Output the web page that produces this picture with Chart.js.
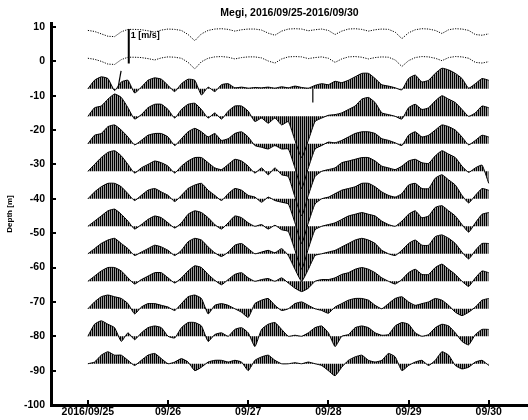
<!DOCTYPE html>
<html>
<head>
<meta charset="utf-8">
<script src="https://cdn.jsdelivr.net/npm/chart.js"></script>
<style>
  html, body { margin: 0; padding: 0; background: #fff; }
</style>
</head>
<body>
<canvas id="chart" width="528" height="420"></canvas>
<script>
// Time axis: days since 2016/09/25 00:00, samples every 2 hours
const sampleHours = Array.from({ length: 61 }, (_, i) => i * 2);
const xTickValues = [0, 1, 2, 3, 4, 5];
const xTickLabels = ['2016/09/25', '09/26', '09/27', '09/28', '09/29', '09/30'];
const yTickValues = [10, 0, -10, -20, -30, -40, -50, -60, -70, -80, -90, -100];

// Dotted surface rows (plotted in depth units)
const surfaceTop = [9.0, 8.7, 8.0, 7.3, 7.2, 8.6, 9.3, 9.3, 9.2, 8.9, 8.5, 9.1, 9.4, 9.3, 9.0, 7.8, 6.0, 8.0, 9.0, 9.4,
  9.5, 9.3, 8.8, 9.2, 9.4, 9.4, 9.1, 8.2, 7.6, 8.8, 9.4, 9.5, 9.4, 8.9, 9.2, 9.4, 9.0, 7.8, 8.8, 9.4,
  9.5, 9.3, 8.8, 9.2, 9.4, 9.3, 8.5, 6.6, 8.3, 9.2, 9.5, 9.4, 9.0, 8.1, 9.2, 9.5, 9.4, 9.0, 7.8, 7.6, 8.0];
const surfaceLow = [0.9, 0.6, 0.0, -0.8, -0.9, 0.5, 1.2, 1.2, 1.1, 0.8, 0.4, 1.0, 1.3, 1.2, 0.9, -0.3, -2.2, -0.1, 0.9, 1.3,
  1.4, 1.2, 0.7, 1.1, 1.3, 1.3, 1.0, 0.1, -0.5, 0.7, 1.3, 1.4, 1.3, 0.8, 1.1, 1.3, 0.9, -0.3, 0.7, 1.3,
  1.4, 1.2, 0.7, 1.1, 1.3, 1.2, 0.4, -1.5, 0.2, 1.1, 1.4, 1.3, 0.9, 0.2, 1.1, 1.4, 1.3, 0.9, -0.3, -0.5, -0.1];

// Stick rows: baseline depths and stick tip offsets (1 m/s = 10 depth units)
const rowDepths = [-8, -16, -24, -32, -40, -48, -56, -64, -72, -80, -88];
const row08 = [0, 2.5, 3.5, 3.0, -0.5, 2.0, 2.5, -1.2, 0.5, 2.5, 3.2, 2.8, 1.0, -0.8, 1.5, 2.8, 2.5, -1.8, 0.5, -0.8,
  1.2, 1.5, 0.3, 0.5, 0.2, 0.4, 0.3, 0.5, 0.2, 0.6, 0.3, 0.8, 0.4, 0.2, 1.0, 1.5, 1.2, 2.2, 1.8, 2.5,
  3.5, 4.5, 4.5, 3.0, 1.2, 0.8, 0.3, -0.3, 3.0, 4.0, 2.0, 2.5, 4.5, 6.0, 5.5, 4.5, 3.0, 0.2, 1.5, 3.0, 2.5];
const row16 = [0, 2.5, 3.0, 5.0, 6.5, 5.5, 2.5, -0.8, 0.5, 2.5, 3.5, 3.5, 2.0, -0.5, 2.0, 3.5, 3.8, 2.0, -0.5, 1.0,
  -0.8, 1.5, 3.0, 3.0, 1.5, -1.5, -0.5, -2.0, -0.5, -2.5, -1.5, -7.0, -12.0, -7.0, -1.5, -0.5, 0.3, 0.5, 1.0, 2.0,
  3.0, 5.0, 5.5, 4.0, 1.0, 0.5, 0, -0.8, 2.5, 3.5, 2.0, 2.5, 4.5, 6.0, 5.0, 4.0, 2.0, 0, 1.0, 3.0, 2.5];
const row24 = [0, 2.5, 3.0, 5.0, 5.5, 4.0, 2.0, -0.3, 1.0, 2.5, 3.0, 3.0, 2.0, -0.5, 1.5, 3.5, 4.5, 3.5, 2.0, 3.0,
  1.0, 1.5, 3.0, 3.5, 2.0, -0.5, -1.0, -1.5, -0.5, -1.5, -1.5, -7.0, -13.0, -7.0, -1.5, -0.5, 0.5, 0.3, 1.0, 2.0,
  3.0, 3.5, 3.5, 3.0, 1.5, 1.0, 0.3, -0.5, 2.5, 3.5, 2.0, 2.5, 4.0, 5.5, 5.0, 4.0, 2.0, -0.3, 1.0, 2.5, 2.0];
const row32 = [0, 2.0, 4.0, 5.5, 6.0, 4.5, 2.0, -0.5, 1.0, 2.0, 3.0, 2.5, 1.5, -0.5, 1.5, 3.0, 4.0, 4.0, 2.5, 1.0,
  0.5, 2.0, 3.5, 3.0, 1.5, -0.5, 1.0, -1.0, 1.0, -1.0, -1.5, -7.5, -13.0, -7.0, -1.5, 0, 0.5, 1.0, 2.5, 3.0,
  3.5, 4.0, 4.0, 3.0, 1.5, 1.0, 0.5, 1.5, 3.0, 3.5, 2.5, 2.3, 4.5, 6.0, 5.0, 4.0, 1.5, -0.3, 1.0, 1.8, -3.5];
const row40 = [0, 2.0, 3.5, 4.5, 4.5, 3.5, 1.5, -0.5, 1.0, 2.5, 3.0, 2.0, 1.0, -0.8, 1.0, 3.0, 4.0, 4.5, 2.5, 1.0,
  -0.5, 1.5, 3.0, 2.5, 1.0, 0.5, -1.0, 0.5, -0.5, -1.0, -1.5, -7.0, -13.0, -7.0, -1.5, 0, 0.5, 1.5, 2.5, 3.0,
  3.5, 4.5, 4.5, 3.5, 2.0, 1.0, 0.5, 1.5, 4.0, 4.5, 3.0, 3.0, 6.0, 7.0, 5.5, 4.0, 1.0, -1.2, 1.0, 3.0, 2.5];
const row48 = [0, 1.5, 3.0, 4.5, 5.0, 3.5, 1.5, -0.8, 0.5, 2.0, 3.0, 2.5, 1.0, -0.5, 1.0, 3.5, 4.5, 4.0, 2.5, 0.5,
  -0.8, 1.0, 3.0, 2.5, 1.0, 0, 0.5, -0.8, 0.3, -1.0, -1.5, -7.0, -12.5, -6.5, -1.0, 0, 0.5, 1.0, 2.0, 3.0,
  3.5, 4.0, 3.5, 3.0, 1.5, 0.5, 0, 1.5, 3.5, 4.5, 2.5, 3.0, 5.5, 6.0, 4.5, 3.0, 0.5, -1.7, 1.0, 3.5, 4.0];
const row56 = [0, 1.5, 3.0, 4.0, 4.5, 3.0, 1.5, -0.5, 0.5, 1.5, 2.5, 2.0, 1.0, -0.5, 1.0, 3.5, 4.5, 4.0, 2.0, 0.3,
  -0.8, 0.5, 2.5, 3.0, 1.5, 0, 0.5, 1.0, 0.3, 1.5, -0.5, -4.5, -8.0, -4.5, -0.5, 0, 0.5, 1.0, 2.0, 3.0,
  4.0, 4.5, 4.0, 3.0, 1.0, 0, -0.5, 1.0, 3.0, 4.0, 2.5, 2.5, 5.0, 5.5, 4.5, 3.0, 0.5, -1.5, 1.0, 3.0, 3.0];
const row64 = [0, 1.5, 3.0, 4.0, 4.0, 3.0, 1.0, -0.8, 0.5, 1.5, 2.5, 2.5, 1.0, -0.5, 1.0, 3.0, 4.5, 4.0, 2.0, 0.3,
  -1.0, 0.5, 2.0, 2.5, 1.0, 0, 0.5, 0.8, 0, 1.0, -0.5, -2.0, -3.0, -2.0, 0, 0.5, 0.5, 1.0, 2.0, 2.5,
  3.5, 4.0, 3.5, 2.5, 1.0, 0, -0.8, 0.5, 2.5, 3.5, 2.0, 2.0, 4.0, 5.0, 3.5, 2.0, 0, -1.5, 1.0, 3.0, 2.5];
const row72 = [0, 2.0, 3.5, 4.0, 3.5, 3.0, 1.5, -1.5, 0.5, 1.5, 1.5, 1.0, 0.5, -0.5, 1.5, 3.5, 4.0, 3.0, -1.5, 1.0,
  1.5, 1.0, 0, -1.0, -2.5, 1.5, 2.5, 3.0, 1.0, -0.5, 0, 1.5, 2.0, 1.0, 0, -0.5, -1.3, 0.5, 1.5, 2.5,
  3.0, 3.0, 2.5, 1.0, 0, 1.5, 3.0, 3.5, 2.0, 1.0, 1.5, 2.0, 3.0, 2.5, 1.0, -1.0, -2.0, -1.0, 0.5, 2.5, 3.0];
const row80 = [0, 3.5, 4.5, 3.5, 2.5, -1.5, 1.0, -1.0, 1.0, 2.5, 3.0, 2.5, 0, -0.5, 2.5, 4.0, 4.0, 3.0, -1.5, 0.5,
  1.0, 0, 2.0, 2.5, 1.0, -3.0, 2.0, 3.5, 4.0, 2.0, 0, 0.3, 0, 1.0, 2.5, 3.0, 1.0, -3.0, 0, 0.5,
  2.5, 3.0, 2.5, 1.0, 0.3, 0.5, 3.0, 4.0, 3.5, 1.0, 0, 0.5, 2.5, 3.5, 3.0, 1.0, -1.5, -2.5, 0.5, 2.0, 2.0];
const row88 = [0, 0.5, 2.5, 3.5, 2.5, 2.5, 1.0, -0.5, 1.0, 2.5, 3.0, 1.5, 0, 0.5, 1.5, 0.5, -2.0, -1.0, 0.5, 1.0,
  1.0, 0.5, 1.0, 0.5, -2.0, 1.0, 2.0, 2.5, 1.0, 0, 0, 0.3, 0, 0.5, 0, -0.5, -2.0, -3.5, -1.0, 1.0,
  2.0, 2.5, 1.0, 0.5, 1.0, 3.0, 2.0, -2.0, -0.5, 0.5, 1.0, -0.5, 1.0, 3.5, 2.5, -0.5, -1.5, -1.0, 0.5, 1.0, -0.5];
const stickRows = [row08, row16, row24, row32, row40, row48, row56, row64, row72, row80, row88];

// Single long sticks drawn on their own (time in days, depth, dt, dv)
const spikeTimes = [0.374, 2.806];
const spikeDepths = [-8, -8];
const spikeDt = [0.04, 0];
const spikeDv = [5.2, -4.0];

// Velocity scale bar
const scaleBarT = 0.51;
const scaleBarTop = 9.4;
const scaleBarLen = 10;
const scaleBarLabel = '1 [m/s]';
const scaleBarLabelY = 7.4;

const FONT = '"Liberation Sans", Arial, sans-serif';

// vertical hatching used to fill the stick envelopes
function makeHatch() {
  const c = document.createElement('canvas');
  c.width = 2; c.height = 1;
  const g = c.getContext('2d');
  g.fillStyle = '#000';
  g.fillRect(0, 0, 1, 1);
  g.fillStyle = '#9a9a9a';
  g.fillRect(1, 0, 1, 1);
  return g.createPattern(c, 'repeat');
}
const hatch = makeHatch();

const datasets = [];
[surfaceTop, surfaceLow].forEach(vals => {
  datasets.push({
    data: vals.map((v, i) => ({ x: sampleHours[i] / 24, y: v })),
    borderColor: '#000',
    borderWidth: 1,
    borderDash: [1.2, 1.3],
    pointRadius: 0,
    tension: 0,
    fill: false
  });
});

stickRows.forEach((vals, r) => {
  const depth = rowDepths[r];
  datasets.push({
    data: vals.map((v, i) => ({ x: sampleHours[i] / 24, y: depth + v })),
    borderColor: '#000',
    borderWidth: 1,
    backgroundColor: hatch,
    fill: { value: depth },
    pointRadius: 0,
    tension: 0.15
  });
});

spikeTimes.forEach((t, k) => {
  datasets.push({
    data: [{ x: t, y: spikeDepths[k] }, { x: t + spikeDt[k], y: spikeDepths[k] + spikeDv[k] }],
    borderColor: '#000',
    borderWidth: 1.2,
    pointRadius: 0,
    fill: false
  });
});

datasets.push({
  data: [{ x: scaleBarT, y: scaleBarTop }, { x: scaleBarT, y: scaleBarTop - scaleBarLen }],
  borderColor: '#000',
  borderWidth: 2,
  pointRadius: 0,
  fill: false
});

// inward tick marks and the scale bar label
const axisExtras = {
  id: 'axisExtras',
  afterDraw(chart) {
    const { ctx, scales: { x, y } } = chart;
    ctx.save();
    ctx.strokeStyle = '#000';
    ctx.lineWidth = 2;
    ctx.beginPath();
    xTickValues.forEach(v => {
      const px = Math.round(x.getPixelForValue(v));
      ctx.moveTo(px, y.bottom);
      ctx.lineTo(px, y.bottom - 5);
    });
    yTickValues.forEach(v => {
      const py = Math.round(y.getPixelForValue(v));
      ctx.moveTo(x.left, py);
      ctx.lineTo(x.left + 5, py);
    });
    ctx.stroke();
    ctx.font = 'bold 9px ' + FONT;
    ctx.fillStyle = '#000';
    ctx.textBaseline = 'middle';
    ctx.fillText(scaleBarLabel, x.getPixelForValue(scaleBarT) + 2, y.getPixelForValue(scaleBarLabelY));
    ctx.restore();
  }
};

new Chart(document.getElementById('chart'), {
  type: 'line',
  data: { datasets },
  options: {
    responsive: false,
    animation: false,
    layout: { padding: { top: 0, right: 0, bottom: 0, left: 0 } },
    plugins: {
      legend: { display: false },
      tooltip: { enabled: false },
      title: {
        display: true,
        text: 'Megi, 2016/09/25-2016/09/30',
        color: '#000',
        fullSize: false,
        font: { family: FONT, size: 10.5, weight: 'bold' },
        padding: { top: 7, bottom: 3.4 }
      }
    },
    scales: {
      x: {
        type: 'linear',
        min: -0.46,
        max: 5.49,
        afterFit: s => { s.height = 15; },
        afterBuildTicks: s => { s.ticks = xTickValues.map(v => ({ value: v })); },
        grid: { display: true, drawOnChartArea: false, drawTicks: false },
        border: { display: true, width: 3, color: '#000' },
        ticks: {
          autoSkip: false,
          maxRotation: 0,
          padding: 1,
          color: '#000',
          font: { family: FONT, size: 10.5, weight: 'bold' },
          callback: (v) => xTickLabels[xTickValues.indexOf(v)]
        }
      },
      y: {
        min: -100,
        max: 11.16,
        afterFit: s => { s.width = 51; },
        afterBuildTicks: s => { s.ticks = yTickValues.map(v => ({ value: v })); },
        grid: { display: true, drawOnChartArea: false, drawTicks: false },
        border: { display: true, width: 3, color: '#000' },
        title: {
          display: true,
          text: 'Depth [m]',
          color: '#000',
          font: { family: FONT, size: 8, weight: 'bold' },
          padding: { top: 5, bottom: 0 }
        },
        ticks: {
          padding: 6,
          color: '#000',
          font: { family: FONT, size: 10.5, weight: 'bold' }
        }
      }
    }
  },
  plugins: [axisExtras]
});
</script>
</body>
</html>
